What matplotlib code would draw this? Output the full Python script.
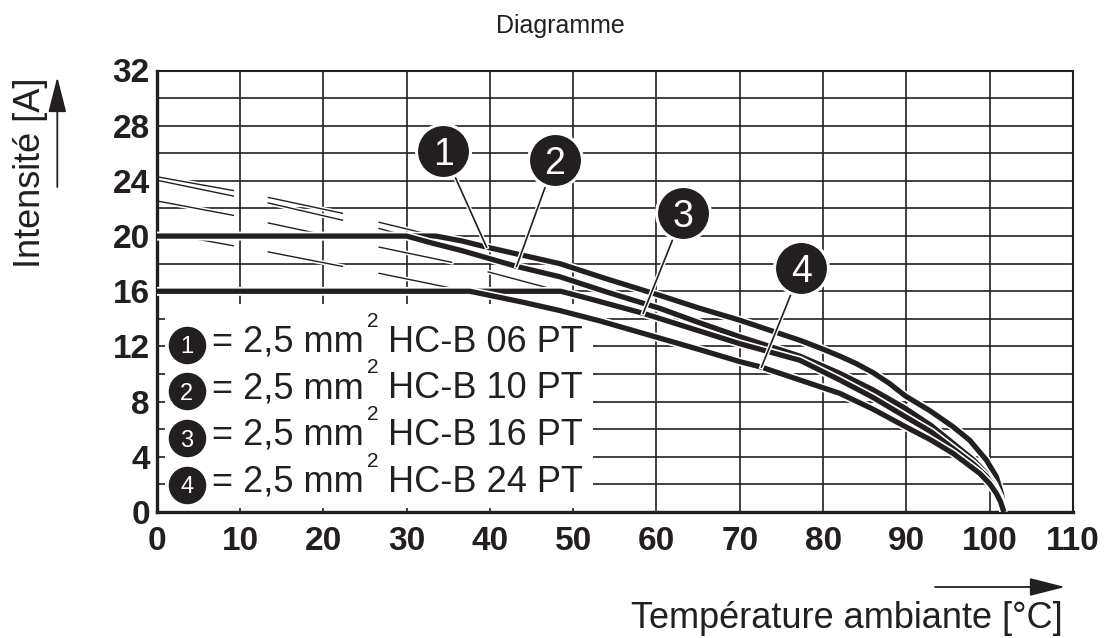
import numpy as np
import matplotlib
matplotlib.use("Agg")
import matplotlib.pyplot as plt
import matplotlib.patheffects as pe
from matplotlib.patches import Rectangle

plt.rcParams["font.family"] = ["Liberation Sans", "DejaVu Sans"]

INK = "#231f20"
nan = np.nan

X_TICKS = list(range(0, 111, 10))
Y_TICKS = list(range(0, 33, 4))
Y_MINOR = list(range(0, 33, 2))

# derating curves: ambient temperature [degC] -> current [A]
C1_T = [0, 33.5, 36.6, 39.6, 44.0, 48.4, 54.0, 60.4, 65.0, 70.0, 77.2, 80.0, 82.0, 84.0, 86.0, 88.0,
        89.9, 92.8, 95.6, 97.6, 99.6, 100.8, 101.4, 101.7]
C1_I = [20, 20, 19.65, 19.2, 18.6, 18.0, 16.9, 15.7, 14.8, 13.9, 12.45, 11.8, 11.3, 10.75, 10.1, 9.3,
        8.4, 7.35, 6.18, 5.2, 3.77, 2.56, 1.35, 0]

C2_T = [0, 30.0, 33.0, 36.6, 43.2, 48.4, 54.0, 60.4, 65.0, 70.0, 77.2, 82.0, 86.0, 89.9, 93.0,
        95.6, 98.0, 99.6, 100.5, 101.2, 101.7]
C2_I = [20, 20, 19.5, 18.95, 17.8, 17.05, 15.95, 14.76, 13.75, 12.7, 11.3, 10.05, 8.85, 7.5, 6.25,
        4.98, 3.8, 2.8, 2.0, 1.1, 0]

C3_T = [0, 48.5, 52.0, 58.4, 65.0, 70.0, 77.2, 82.0, 86.0, 89.9, 93.0, 95.6, 98.0, 99.6, 100.5,
        101.2, 101.7]
C3_I = [16, 16, 15.45, 14.4, 13.15, 12.2, 11.0, 9.57, 8.3, 6.9, 5.8, 4.6, 3.5, 2.6, 1.8, 1.0, 0]

C4_T = [0, 37.6, 40.0, 44.0, 48.4, 53.2, 60.4, 65.0, 70.0, 72.6, 77.2, 82.0, 86.0, 89.9, 93.0,
        95.6, 98.8, 100.0, 100.8, 101.3, 101.7]
C4_I = [16, 16, 15.7, 15.2, 14.6, 13.85, 12.6, 11.8, 10.9, 10.5, 9.57, 8.6, 7.45, 6.18, 5.2,
        4.25, 2.8, 2.05, 1.35, 0.75, 0]

# thin broken lines above the current limit (nan = gap)
E1_T = [0, 9.2, nan, 13.4, 22.3, nan, 26.7, 33.5]
E1_I = [24.3, 23.3, nan, 22.8, 21.65, nan, 21.0, 20.0]
E2_T = [0, 9.2, nan, 13.4, 22.3, nan, 26.7, 30.0]
E2_I = [24.05, 22.9, nan, 22.4, 21.15, nan, 20.55, 20.0]
E3_T = [0, 9.2, nan, 13.4, 22.3, nan, 26.7, 35.4, nan, 39.8, 48.5]
E3_I = [22.55, 21.5, nan, 20.95, 19.8, nan, 19.2, 18.1, nan, 17.4, 16.0]
E4_T = [0, 9.2, nan, 13.4, 22.3, nan, 26.7, 35.6]
E4_I = [20.3, 19.3, nan, 18.85, 17.8, nan, 17.3, 16.2]

# numbered callouts and the point on the curve each one points to
CALL_T = [34.4, 47.8, 63.2, 77.4]
CALL_I = [26.2, 25.5, 21.65, 17.66]
TIP_T = [39.6, 43.2, 58.4, 72.6]
TIP_I = [19.2, 17.8, 14.4, 10.5]

LEGEND_TYPES = ["HC-B 06 PT", "HC-B 10 PT", "HC-B 16 PT", "HC-B 24 PT"]
SECTION = "= 2,5 mm"

W, H = 1109, 638
fig = plt.figure(figsize=(W / 100, H / 100), dpi=100)
ax = fig.add_axes([156.7 / W, 1 - 512 / H, (1073 - 156.7) / W, (512 - 70.5) / H])

ax.set_xlim(0, 110)
ax.set_ylim(0, 32)
ax.set_xticks(X_TICKS)
ax.set_yticks(Y_TICKS)
ax.set_yticks(Y_MINOR, minor=True)
ax.set_axisbelow(True)
ax.grid(which="both", color=INK, lw=1.2)
ax.tick_params(which="both", length=0, colors=INK)
ax.tick_params(axis="x", pad=10, labelsize=24)
ax.tick_params(axis="y", pad=5, labelsize=24)
for lbl in ax.get_xticklabels() + ax.get_yticklabels():
    lbl.set_fontweight("bold")
for side in ("left", "bottom"):
    ax.spines[side].set_linewidth(2.4)
for side in ("top", "right"):
    ax.spines[side].set_linewidth(1.5)
for sp in ax.spines.values():
    sp.set_color(INK)

# white box behind the legend text
ax.add_patch(Rectangle((1.0, 0.3), 51.4, 14.8, facecolor="white", edgecolor="none", zorder=1))

thin_fx = [pe.withStroke(linewidth=3.2, foreground="white")]
thick_fx = [pe.withStroke(linewidth=6.2, foreground="white")]

for et, ei in [(E1_T, E1_I), (E2_T, E2_I), (E3_T, E3_I), (E4_T, E4_I)]:
    ax.plot(et, ei, color=INK, lw=1.0, path_effects=thin_fx, zorder=2)

for ct, ci in [(C1_T, C1_I), (C2_T, C2_I), (C3_T, C3_I), (C4_T, C4_I)]:
    ax.plot(ct, ci, color=INK, lw=3.8, solid_capstyle="butt", solid_joinstyle="round",
            path_effects=thick_fx, zorder=3)

for k in range(4):
    ax.plot([CALL_T[k], TIP_T[k]], [CALL_I[k], TIP_I[k]], color=INK, lw=1.2,
            path_effects=thin_fx, zorder=4)
ax.scatter(CALL_T, CALL_I, s=1510, color=INK, edgecolors="white", linewidths=2.2, zorder=5)
for k in range(4):
    ax.text(CALL_T[k], CALL_I[k], str(k + 1), color="white", fontsize=27,
            ha="center", va="center_baseline", zorder=6)

# legend rows
for k, name in enumerate(LEGEND_TYPES):
    base = 11.62 - 3.38 * k
    ax.scatter([3.6], [base + 0.5], s=676, color=INK, zorder=5)
    ax.text(3.6, base + 0.5, str(k + 1), color="white", fontsize=17,
            ha="center", va="center_baseline", zorder=6)
    ax.text(6.6, base, SECTION, color=INK, fontsize=26, ha="left", va="baseline", zorder=6)
    ax.text(25.3, base + 1.81, "2", color=INK, fontsize=15, ha="left", va="baseline", zorder=6)
    ax.text(27.8, base, name, color=INK, fontsize=26, ha="left", va="baseline", zorder=6)

fig.text(560 / W, 1 - 32.7 / H, "Diagramme", ha="center", va="baseline", fontsize=18, color=INK)
fig.text(1063 / W, 1 - 628 / H, "Température ambiante [°C]", ha="right", va="baseline",
         fontsize=26, color=INK)
fig.text(31 / W, 1 - 172.5 / H, "Intensité [A]", rotation=90, ha="center", va="center",
         fontsize=26, color=INK)

arrow = dict(arrowstyle="-|>,head_length=1.1,head_width=0.28", mutation_scale=20,
             lw=1.3, color=INK, shrinkA=0, shrinkB=0)
ax.annotate("", xy=(1065, H - 587), xytext=(935, H - 587), xycoords="figure pixels",
            textcoords="figure pixels", arrowprops=arrow)
ax.annotate("", xy=(57.3, H - 77), xytext=(57.3, H - 187), xycoords="figure pixels",
            textcoords="figure pixels", arrowprops=arrow)

fig.savefig("out.png", dpi=100, facecolor="white")
